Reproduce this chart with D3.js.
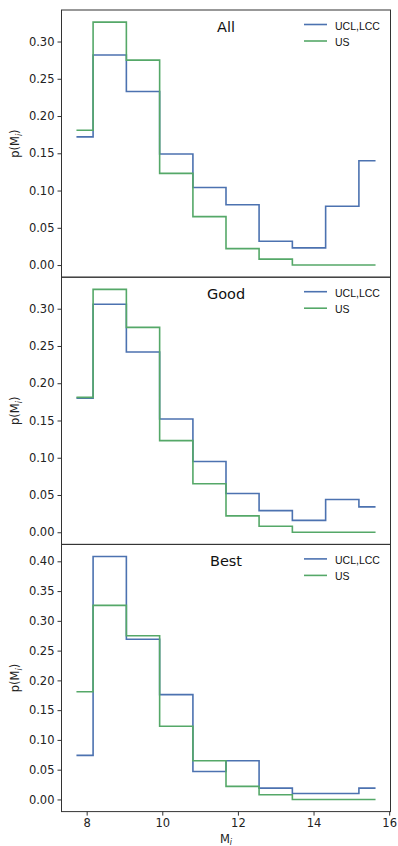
<!DOCTYPE html>
<html>
<head>
<meta charset="utf-8">
<script src="https://cdnjs.cloudflare.com/ajax/libs/d3/7.8.5/d3.min.js"></script>
<style>
  body { margin: 0; background: #fff; }
  svg { display: block; }
</style>
</head>
<body>
<svg id="chart" width="398" height="846"></svg>
<script>
// bin centres of the step histograms (same for every panel)
var binCenters = [7.73, 8.61, 9.49, 10.37, 11.25, 12.12, 13.00, 13.88, 14.76, 15.64];

var panelNames = ["All", "Good", "Best"];
var seriesNames = ["UCL,LCC", "US"];

var uclAll  = [0.172, 0.282, 0.233, 0.149, 0.104, 0.081, 0.032, 0.023, 0.079, 0.140];
var uclGood = [0.180, 0.306, 0.242, 0.152, 0.095, 0.052, 0.029, 0.016, 0.044, 0.034];
var uclBest = [0.074, 0.408, 0.269, 0.176, 0.047, 0.065, 0.019, 0.010, 0.010, 0.019];

var usAll  = [0.181, 0.326, 0.275, 0.123, 0.065, 0.022, 0.008, 0.0, 0.0, 0.0];
var usGood = [0.181, 0.326, 0.275, 0.123, 0.065, 0.022, 0.008, 0.0, 0.0, 0.0];
var usBest = [0.181, 0.326, 0.275, 0.123, 0.065, 0.022, 0.008, 0.0, 0.0, 0.0];

var yTicksShort = [0, 0.05, 0.10, 0.15, 0.20, 0.25, 0.30];
var yTicksTall  = [0, 0.05, 0.10, 0.15, 0.20, 0.25, 0.30, 0.35, 0.40];
var xTicks = [8, 10, 12, 14, 16];

var panelData = [
    { name: panelNames[0], ucl: uclAll,  us: usAll,  ticks: yTicksShort },
    { name: panelNames[1], ucl: uclGood, us: usGood, ticks: yTicksShort },
    { name: panelNames[2], ucl: uclBest, us: usBest, ticks: yTicksTall }
];

var colors = ["#4c72b0", "#55a868"],
    spineColor = "#333",
    tickFont = "DejaVu Sans, sans-serif";

var svg = d3.select("#chart"),
    plotLeft = 61.5,
    plotRight = 390.5,
    plotTop = 10,
    panelH = 267.2;

// x range with matplotlib's 5% margins
var xmin = d3.min(binCenters), xmax = d3.max(binCenters), xpad = (xmax - xmin) * 0.05;
var x = d3.scaleLinear().domain([xmin - xpad, xmax + xpad]).range([plotLeft, plotRight]);

panelData.forEach(function (p, i) {
    var y0 = plotTop + i * panelH,
        y1 = y0 + panelH;
    var ymax = d3.max(p.ucl.concat(p.us)),
        y = d3.scaleLinear().domain([-ymax * 0.05, ymax * 1.05]).range([y1, y0]);

    var g = svg.append("g");

    // y axis
    var yAxis = g.append("g")
        .attr("transform", "translate(" + plotLeft + ",0)")
        .call(d3.axisLeft(y).tickValues(p.ticks).tickFormat(d3.format(".2f")).tickSize(4).tickPadding(3));
    yAxis.select(".domain").remove();
    yAxis.selectAll("line").attr("stroke", spineColor);
    yAxis.selectAll("text").attr("font-family", tickFont).attr("font-size", 11.5).attr("fill", "#222");

    // steps
    var line = d3.line()
        .x(function (d, k) { return x(binCenters[k]); })
        .y(function (d) { return y(d); })
        .curve(d3.curveStep);
    [p.ucl, p.us].forEach(function (vals, s) {
        g.append("path")
            .attr("d", line(vals))
            .attr("fill", "none")
            .attr("stroke", colors[s])
            .attr("stroke-width", 1.6);
    });

    // frame
    g.append("rect")
        .attr("x", plotLeft).attr("y", y0)
        .attr("width", plotRight - plotLeft).attr("height", panelH)
        .attr("fill", "none").attr("stroke", spineColor).attr("stroke-width", 1);

    // title inside the axes
    g.append("text")
        .attr("x", (plotLeft + plotRight) / 2).attr("y", y0 + 22)
        .attr("text-anchor", "middle")
        .attr("font-family", tickFont).attr("font-size", 14.5).attr("fill", "#111")
        .text(p.name);

    // legend
    seriesNames.forEach(function (nm, s) {
        var ly = y0 + 14.5 + s * 16.5;
        g.append("line")
            .attr("x1", 304).attr("x2", 327).attr("y1", ly).attr("y2", ly)
            .attr("stroke", colors[s]).attr("stroke-width", 1.6);
        g.append("text")
            .attr("x", 335).attr("y", ly + 5)
            .attr("font-family", "Liberation Sans, Arial, sans-serif").attr("font-size", 10.5).attr("fill", "#111")
            .text(nm);
    });

    // y label p(M_i)
    var yl = g.append("text")
        .attr("transform", "translate(19," + ((y0 + y1) / 2) + ") rotate(-90)")
        .attr("text-anchor", "middle")
        .attr("font-family", tickFont).attr("font-size", 11.5).attr("fill", "#222");
    yl.append("tspan").text("p(M");
    yl.append("tspan").attr("font-size", 8).attr("font-style", "italic").attr("dy", 2.5).text("i");
    yl.append("tspan").attr("dy", -2.5).text(")");

    // x axis only on the last panel
    if (i === panelData.length - 1) {
        var xAxis = g.append("g")
            .attr("transform", "translate(0," + y1 + ")")
            .call(d3.axisBottom(x).tickValues(xTicks).tickFormat(d3.format("d")).tickSize(4).tickPadding(3));
        xAxis.select(".domain").remove();
        xAxis.selectAll("line").attr("stroke", spineColor);
        xAxis.selectAll("text").attr("font-family", tickFont).attr("font-size", 11.5).attr("fill", "#222");

        var xl = g.append("text")
            .attr("x", (plotLeft + plotRight) / 2).attr("y", y1 + 31)
            .attr("text-anchor", "middle")
            .attr("font-family", tickFont).attr("font-size", 11.5).attr("fill", "#222");
        xl.append("tspan").text("M");
        xl.append("tspan").attr("font-size", 8).attr("font-style", "italic").attr("dy", 2.5).text("i");
    }
});
</script>
</body>
</html>
